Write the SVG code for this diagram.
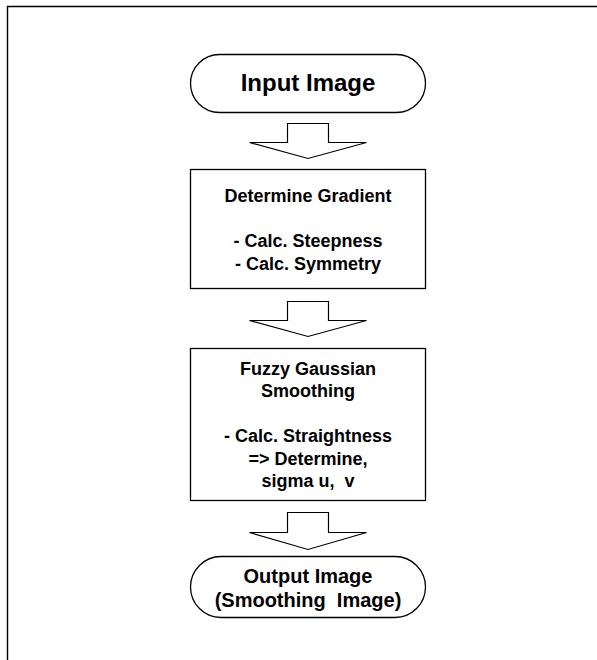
<svg xmlns="http://www.w3.org/2000/svg" width="597" height="660" viewBox="0 0 597 660">
<style>
.shape{fill:#fff;stroke:#000;stroke-width:1.3}
.arrow{fill:#fff;stroke:#000;stroke-width:1.2;stroke-linejoin:miter}
.frame{fill:none;stroke:#000;stroke-width:1.4}
text{font-family:"Liberation Sans",Arial,sans-serif;font-weight:bold;fill:#000;text-anchor:middle}
.t18{font-size:18px}
.t20{font-size:20px}
.t24{font-size:24px}
</style>
<rect width="597" height="660" fill="#fff"/>
<path class="frame" d="M7.5,660 V6.5 H597"/>
<g id="input">
<rect class="shape" x="190.5" y="54.5" width="235" height="58" rx="29" ry="29"/>
<text class="t24" x="308" y="91">Input Image</text>
</g>
<g id="gradient">
<rect class="shape" x="190.5" y="169.5" width="235" height="119"/>
<text class="t18" x="308" y="202">Determine Gradient</text>
<text class="t18" x="308" y="247">- Calc. Steepness</text>
<text class="t18" x="308" y="270">- Calc. Symmetry</text>
</g>
<g id="smoothing">
<rect class="shape" x="190.5" y="348.5" width="235" height="152"/>
<text class="t18" x="308" y="375">Fuzzy Gaussian</text>
<text class="t18" x="308" y="397">Smoothing</text>
<text class="t18" x="308" y="442">- Calc. Straightness</text>
<text class="t18" x="308" y="465">=&gt; Determine,</text>
<text class="t18" x="308" y="487" xml:space="preserve">sigma u,  v</text>
</g>
<g id="output">
<rect class="shape" x="190.5" y="556.5" width="235" height="61" rx="30.5" ry="30.5"/>
<text class="t20" x="308" y="583">Output Image</text>
<text class="t20" x="308" y="607" xml:space="preserve">(Smoothing  Image)</text>
</g>
<g id="connectors">
<polygon class="arrow" points="287.5,123.5 328.5,123.5 328.5,142.5 366.5,142.5 308,158.5 249.5,142.5 287.5,142.5"/>
<polygon class="arrow" points="287.5,301.5 328.5,301.5 328.5,320.5 366.5,320.5 308,336.5 249.5,320.5 287.5,320.5"/>
<polygon class="arrow" points="287.5,512.5 328.5,512.5 328.5,532.5 366.5,532.5 308,549.5 249.5,532.5 287.5,532.5"/>
</g>
</svg>
